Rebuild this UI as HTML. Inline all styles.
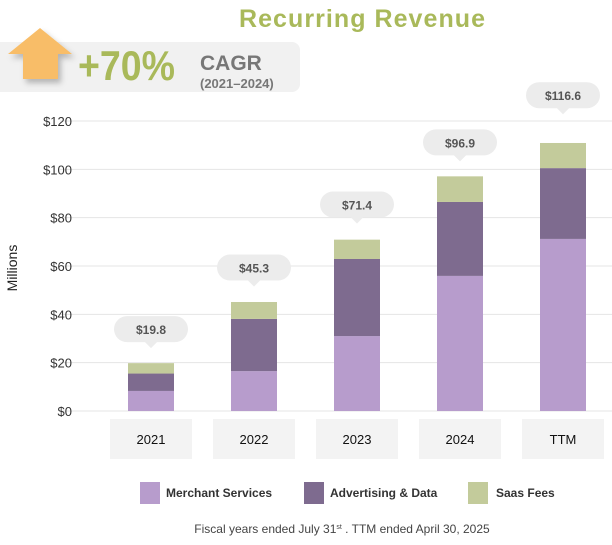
<!DOCTYPE html>
<html><head><meta charset="utf-8"><style>
body{margin:0;background:#fff;font-family:"Liberation Sans",sans-serif}
#wrap{position:relative;width:612px;height:545px;overflow:hidden}
</style></head><body>
<div id="wrap">
<svg id="svg" width="612" height="545" xmlns="http://www.w3.org/2000/svg">
<defs><filter id="sh" x="-30%" y="-30%" width="160%" height="160%"><feDropShadow dx="3" dy="4" stdDeviation="3" flood-color="#000" flood-opacity="0.25"/></filter></defs>
<text x="362" y="27" text-anchor="middle" font-size="25" font-weight="bold" fill="#a9b95a" textLength="246">Recurring Revenue</text>
<path d="M0 42 H292 a8 8 0 0 1 8 8 V84 a8 8 0 0 1 -8 8 H0 Z" fill="#f1f1f1"/>
<polygon points="40,28 72,54 58,54 58,79 23,79 23,54 8,54" fill="#f8bd67" filter="url(#sh)"/>
<text x="78" y="80" font-size="42" font-weight="bold" fill="#a9b95a" textLength="97" lengthAdjust="spacingAndGlyphs">+70%</text>
<text x="200" y="70" font-size="21" font-weight="bold" fill="#777">CAGR</text>
<text x="200" y="88" font-size="13" font-weight="bold" fill="#777">(2021–2024)</text>
<text transform="translate(17,268) rotate(-90)" text-anchor="middle" font-size="14" fill="#222">Millions</text>
<g id="grid"></g><g id="bars"></g>
<g>
<rect x="140" y="482" width="20" height="22" fill="#b79ccc"/>
<text x="166" y="497" font-size="12" font-weight="bold" fill="#333">Merchant Services</text>
<rect x="304" y="482" width="20" height="22" fill="#7e6b8f"/>
<text x="330" y="497" font-size="12" font-weight="bold" fill="#333">Advertising &amp; Data</text>
<rect x="468" y="482" width="20" height="22" fill="#c3cb9b"/>
<text x="496" y="497" font-size="12" font-weight="bold" fill="#333">Saas Fees</text>
</g>
<text x="342" y="533" text-anchor="middle" font-size="12" fill="#444">Fiscal years  ended July 31<tspan font-size="7" dy="-4">st</tspan><tspan dy="4"> .  TTM ended April 30, 2025</tspan></text>
</svg>
</div>
<script>
const categories=["2021","2022","2023","2024","TTM"];
const merchant=[8.3,16.5,31.0,55.9,71.2];
const advertising=[7.2,21.6,31.9,30.6,29.3];
const saas=[4.3,7.0,8.0,10.6,10.4];
const totals=[19.8,45.3,71.4,96.9,116.6];
const totalLabels=["$19.8","$45.3","$71.4","$96.9","$116.6"];
const yTicks=[0,20,40,60,80,100,120];
const NS="http://www.w3.org/2000/svg";
const y=v=>411-v*290/120;
const x=i=>151+i*103;
function mk(t,a,p){const e=document.createElementNS(NS,t);for(const k in a)e.setAttribute(k,a[k]);p.appendChild(e);return e;}
const grid=document.getElementById('grid'),bars=document.getElementById('bars');
yTicks.forEach(v=>{
 const l=mk('line',{x1:60,x2:612,y1:y(v),y2:y(v),stroke:'#e4e4e4','stroke-width':1},grid);
 
 
 const t=mk('text',{x:72,y:y(v)+5,'text-anchor':'end','font-size':13,fill:'#333'},grid);
 t.textContent='$'+v;
 
 
});
categories.forEach((c,i)=>{
 const cx=x(i),w=46;
 const box=mk('rect',{x:cx-41,y:419,width:82,height:40,fill:'#f3f3f3'},bars);
 
 
 const ct=mk('text',{x:cx,y:444,'text-anchor':'middle','font-size':13,fill:'#111'},bars);
 ct.textContent=c;
 
 
 let base=0;
 [[merchant,'#b79ccc','merchant'],[advertising,'#7e6b8f','advertising'],[saas,'#c3cb9b','saas']].forEach(([arr,col,n])=>{
  const r=mk('rect',{x:cx-w/2,y:y(base+arr[i]),width:w,height:y(base)-y(base+arr[i]),fill:col},bars);
  
  
  base+=arr[i];
 });
 const by=y(Math.max(base,totals[i]))-34;
 const b=mk('path',{d:`M${cx-24} ${by-13} h48 a13 13 0 0 1 0 26 h-18 l-6 6 l-6 -6 h-18 a13 13 0 0 1 0 -26 z`,fill:'#ececec'},bars);
 
 
 const bt=mk('text',{x:cx,y:by+5,'text-anchor':'middle','font-size':12,'font-weight':'bold',fill:'#555'},bars);
 bt.textContent=totalLabels[i];
 
 
});
</script>
</body></html>
